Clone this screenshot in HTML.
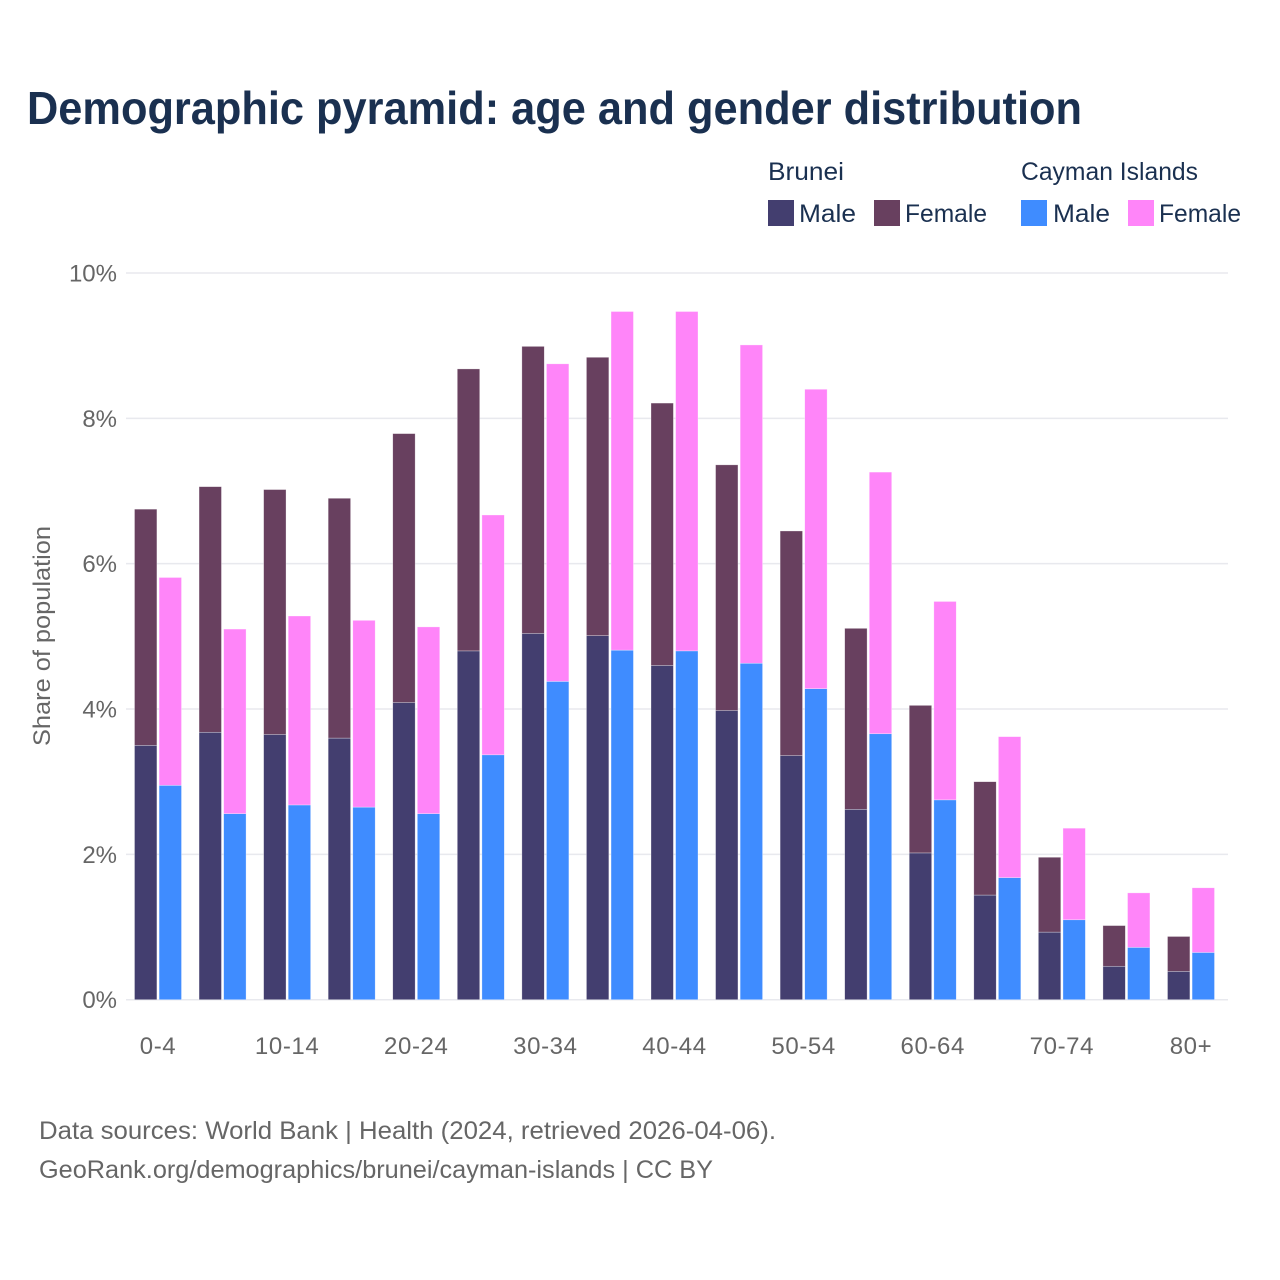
<!DOCTYPE html>
<html lang="en">
<head>
<meta charset="utf-8">
<title>Demographic pyramid</title>
<style>
html,body{margin:0;padding:0;background:#fff}
svg{display:block}
text{font-family:"Liberation Sans",sans-serif}
</style>
</head>
<body>
<svg id="chart" width="1280" height="1280" viewBox="0 0 1280 1280" xmlns="http://www.w3.org/2000/svg">
<rect width="1280" height="1280" fill="#fff"/>
<text x="27" y="124" font-size="46" font-weight="700" fill="#1a3050" textLength="1055" lengthAdjust="spacingAndGlyphs">Demographic pyramid: age and gender distribution</text>

<g font-size="25" fill="#1a3050">
<text x="768" y="180" textLength="76" lengthAdjust="spacingAndGlyphs">Brunei</text>
<text x="1021" y="180" textLength="177" lengthAdjust="spacingAndGlyphs">Cayman Islands</text>
<rect x="768" y="200" width="26" height="26" fill="#433e6f"/>
<text x="799" y="222" textLength="57" lengthAdjust="spacingAndGlyphs">Male</text>
<rect x="874" y="200" width="26" height="26" fill="#68405f"/>
<text x="905" y="222" textLength="82" lengthAdjust="spacingAndGlyphs">Female</text>
<rect x="1021" y="200" width="26" height="26" fill="#3f8cff"/>
<text x="1053" y="222" textLength="57" lengthAdjust="spacingAndGlyphs">Male</text>
<rect x="1128" y="200" width="26" height="26" fill="#ff85f9"/>
<text x="1159" y="222" textLength="82" lengthAdjust="spacingAndGlyphs">Female</text>
</g>

<g id="grid"></g>
<g id="bars"></g>
<g id="xlabels"></g>

<text transform="translate(50,636) rotate(-90)" text-anchor="middle" font-size="24" fill="#666" textLength="220" lengthAdjust="spacingAndGlyphs">Share of population</text>

<text x="39" y="1139" font-size="25" fill="#666" textLength="737" lengthAdjust="spacingAndGlyphs">Data sources: World Bank | Health (2024, retrieved 2026-04-06).</text>
<text x="39" y="1178" font-size="25" fill="#666" textLength="674" lengthAdjust="spacingAndGlyphs">GeoRank.org/demographics/brunei/cayman-islands | CC BY</text>
</svg>
<script>
const categories = ['0-4','5-9','10-14','15-19','20-24','25-29','30-34','35-39','40-44','45-49','50-54','55-59','60-64','65-69','70-74','75-79','80+'];
const bruneiMale = [3.50,3.68,3.65,3.60,4.09,4.80,5.04,5.01,4.60,3.98,3.36,2.62,2.02,1.44,0.93,0.46,0.39];
const bruneiFemale = [3.25,3.38,3.37,3.30,3.70,3.88,3.95,3.83,3.61,3.38,3.09,2.49,2.03,1.56,1.03,0.56,0.48];
const caymanMale = [2.95,2.56,2.68,2.65,2.56,3.37,4.38,4.81,4.80,4.63,4.28,3.66,2.75,1.68,1.10,0.72,0.65];
const caymanFemale = [2.86,2.54,2.60,2.57,2.57,3.30,4.37,4.66,4.67,4.38,4.12,3.60,2.73,1.94,1.26,0.75,0.89];
const yTicks = [0,2,4,6,8,10];

const NS = 'http://www.w3.org/2000/svg';
const plot = {left:126, right:1228, y0:999.7, y10:273};
const yScale = v => plot.y0 - (v / 10) * (plot.y0 - plot.y10);
const bandStep = (1191 - 158) / (categories.length - 1);
const xCenter = i => 158 + i * bandStep;
const barWidth = 22.4;
const barOffset = 12.3;

function add(parent, tag, attrs, text) {
  const el = document.createElementNS(NS, tag);
  for (const k in attrs) el.setAttribute(k, attrs[k]);
  if (text !== undefined) el.textContent = text;
  parent.appendChild(el);
  return el;
}

const grid = document.getElementById('grid');
yTicks.forEach(t => {
  const line = add(grid, 'line', {x1:plot.left, x2:plot.right, y1:yScale(t), y2:yScale(t), stroke:'#e8e9ee', 'stroke-width':1.5});
  
  
  const label = add(grid, 'text', {x:117, y:yScale(t) + 8.5, 'text-anchor':'end', 'font-size':24, fill:'#666'}, t + '%');
  
  
});

const bars = document.getElementById('bars');
function stacked(i, cx, male, female, maleColor, femaleColor, prefix) {
  const seg = (start, val, color, part) => {
    const top = yScale(start + val);
    const r = add(bars, 'rect', {x:cx - barWidth / 2, y:top, width:barWidth, height:yScale(start) - top, fill:color, stroke:'#fff', 'stroke-opacity':0.5, 'stroke-width':0.6});
    
    
  };
  seg(0, male, maleColor, 'male');
  seg(male, female, femaleColor, 'female');
}
categories.forEach((c, i) => {
  stacked(i, xCenter(i) - barOffset, bruneiMale[i], bruneiFemale[i], '#433e6f', '#68405f', 'brunei');
  stacked(i, xCenter(i) + barOffset, caymanMale[i], caymanFemale[i], '#3f8cff', '#ff85f9', 'cayman');
});

const xl = document.getElementById('xlabels');
categories.forEach((c, i) => {
  if (i % 2) return;
  const t = add(xl, 'text', {x:xCenter(i), y:1054, 'text-anchor':'middle', 'font-size':24, fill:'#666', 'letter-spacing':0.6}, c);
  
  
});
</script>
</body>
</html>
